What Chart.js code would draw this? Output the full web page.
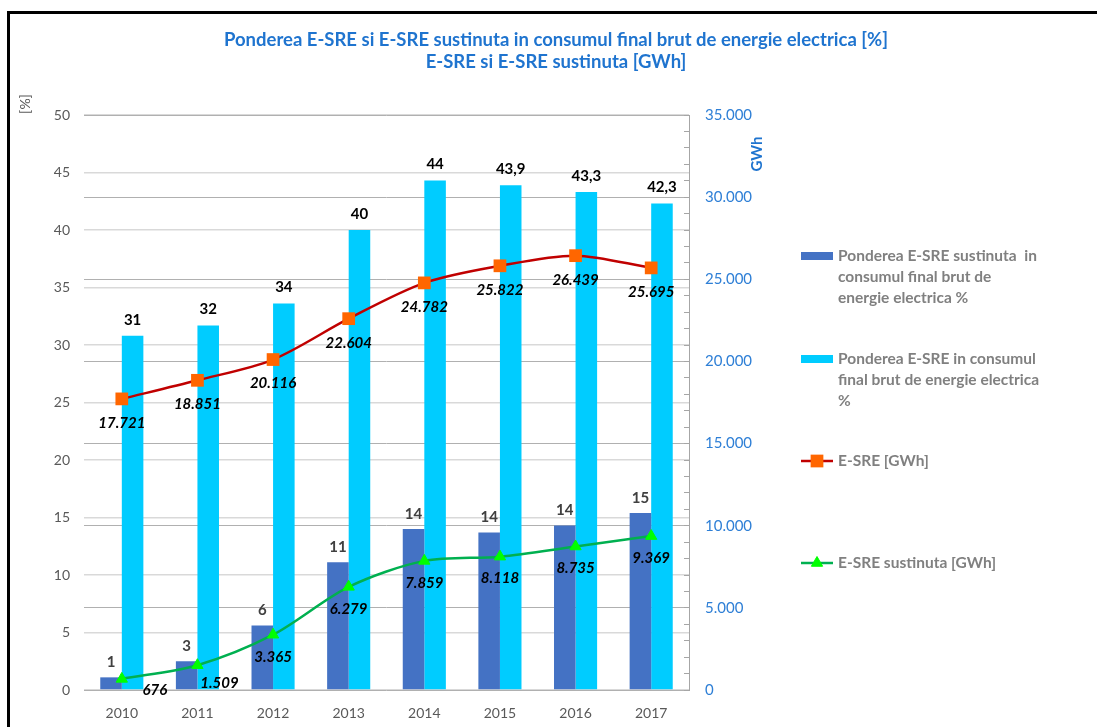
<!DOCTYPE html>
<html><head><meta charset="utf-8">
<script src="https://cdn.jsdelivr.net/npm/chart.js@4.4.0/dist/chart.umd.min.js"></script>
<style>html,body{margin:0;padding:0;background:#fff;}#wrap{position:relative;width:1097px;height:727px;}</style>
</head><body><div id="wrap"><canvas id="c" width="1097" height="727"></canvas></div>
<script>
// ---- data ----
const years = ['2010','2011','2012','2013','2014','2015','2016','2017'];
const pctSustinuta = [1.1, 2.5, 5.6, 11.1, 14.0, 13.7, 14.3, 15.4];
const pctSustinutaLabels = ['1','3','6','11','14','14','14','15'];
const pctTotal = [30.8, 31.7, 33.6, 40.0, 44.3, 43.9, 43.3, 42.3];
const pctTotalLabels = ['31','32','34','40','44','43,9','43,3','42,3'];
const esreGWh = [17721, 18851, 20116, 22604, 24782, 25822, 26439, 25695];
const esreSustGWh = [676, 1509, 3365, 6279, 7859, 8118, 8735, 9369];
const titleLines = ['Ponderea E-SRE si E-SRE sustinuta in consumul final brut de energie electrica [%]', 'E-SRE si E-SRE sustinuta [GWh]'];
const nameSust = ['Ponderea E-SRE sustinuta  in', 'consumul final brut de', 'energie electrica %'];
const nameTotal = ['Ponderea E-SRE in consumul', 'final brut de energie electrica', '%'];
const nameEsre = ['E-SRE [GWh]'];
const nameEsreSust = ['E-SRE sustinuta [GWh]'];
const leftAxisTitle = '[%]';
const rightAxisTitle = 'GWh';

const FONT = 'Lato, "Open Sans", sans-serif';
const fmtThousands = v => String(Math.round(v)).replace(/\B(?=(\d{3})+(?!\d))/g, '.');

const framePlugin = {
  id: 'frame',
  beforeDraw(chart) {
    const ctx = chart.ctx;
    ctx.save();
    ctx.fillStyle = '#fff';
    ctx.fillRect(0, 0, chart.width, chart.height);
    ctx.strokeStyle = '#000';
    ctx.lineWidth = 3;
    ctx.beginPath();
    ctx.moveTo(8.5, chart.height + 2);
    ctx.lineTo(8.5, 12.5);
    ctx.lineTo(chart.width + 2, 12.5);
    ctx.stroke();
    ctx.restore();
  }
};

const labelPlugin = {
  id: 'dataLabels',
  afterDatasetsDraw(chart) {
    const ctx = chart.ctx;
    ctx.save();
    ctx.textAlign = 'center';
    ctx.textBaseline = 'middle';
    chart.data.datasets.forEach((ds, di) => {
      const meta = chart.getDatasetMeta(di);
      const cfg = ds.dl;
      if (!cfg) return;
      meta.data.forEach((el, i) => {
        const txt = cfg.texts ? cfg.texts[i] : fmtThousands(ds.data[i]);
        const sh = (cfg.shift && cfg.shift[i]) || [0, 0];
        ctx.font = cfg.font;
        ctx.fillStyle = cfg.color;
        ctx.fillText(txt, el.x + cfg.dx + sh[0], el.y + cfg.dy + sh[1]);
      });
    });
    ctx.restore();
  },
  afterDraw(chart) {
    const ctx = chart.ctx;
    ctx.save();
    ctx.textAlign = 'center';
    ctx.textBaseline = 'middle';
    ctx.save();
    ctx.translate(25, 104);
    ctx.rotate(-Math.PI / 2);
    ctx.font = '14px ' + FONT;
    ctx.fillStyle = '#595959';
    ctx.fillText(leftAxisTitle, 0, 0);
    ctx.restore();
    ctx.save();
    ctx.translate(757, 154);
    ctx.rotate(-Math.PI / 2);
    ctx.font = 'bold 15px ' + FONT;
    ctx.fillStyle = '#1F74CF';
    ctx.fillText(rightAxisTitle, 0, 0);
    ctx.restore();
    // legend
    const entries = [{ds: 0, y: 256}, {ds: 1, y: 359}, {ds: 2, y: 461}, {ds: 3, y: 563}];
    ctx.textAlign = 'left';
    ctx.font = 'bold 15.5px ' + FONT;
    entries.forEach(e => {
      const ds = chart.data.datasets[e.ds];
      const x0 = 801, x1 = 833, xc = (x0 + x1) / 2;
      if (ds.type === 'bar') {
        ctx.fillStyle = ds.backgroundColor;
        ctx.fillRect(x0, e.y - 4, x1 - x0, 8);
      } else {
        ctx.strokeStyle = ds.borderColor;
        ctx.lineWidth = ds.borderWidth;
        ctx.beginPath(); ctx.moveTo(x0, e.y); ctx.lineTo(x1, e.y); ctx.stroke();
        ctx.fillStyle = ds.pointBackgroundColor;
        ctx.strokeStyle = ds.pointBorderColor;
        ctx.lineWidth = 1;
        const r = ds.pointRadius;
        if (ds.pointStyle === 'rect') {
          const s = r * Math.SQRT1_2;
          ctx.fillRect(xc - s, e.y - s, 2 * s, 2 * s);
        } else {
          Chart.helpers.drawPoint(ctx, {pointStyle: ds.pointStyle, radius: r, borderWidth: 1, rotation: 0}, xc, e.y);
        }
      }
      ctx.fillStyle = '#808080';
      ds.legendLines.forEach((line, k) => {
        ctx.fillText(line, 838, e.y + k * 21);
      });
    });
    ctx.restore();
  }
};

new Chart(document.getElementById('c'), {
  data: {
    labels: years,
    datasets: [
      {
        type: 'bar', label: nameSust.join(' '), legendLines: nameSust,
        data: pctSustinuta, yAxisID: 'y', order: 2,
        backgroundColor: '#4472C4', borderWidth: 0,
        barPercentage: 1, categoryPercentage: 0.57,
        dl: {texts: pctSustinutaLabels, font: 'bold 15px ' + FONT, color: '#404040', dx: 0, dy: -15}
      },
      {
        type: 'bar', label: nameTotal.join(' '), legendLines: nameTotal,
        data: pctTotal, yAxisID: 'y', order: 2,
        backgroundColor: '#00CCFF', borderWidth: 0,
        barPercentage: 1, categoryPercentage: 0.57,
        dl: {texts: pctTotalLabels, font: 'bold 15px ' + FONT, color: '#000', dx: 0, dy: -16}
      },
      {
        type: 'line', label: nameEsre.join(' '), legendLines: nameEsre,
        data: esreGWh, yAxisID: 'y1', order: 0,
        borderColor: '#C00000', borderWidth: 2.5, tension: 0.3,
        pointStyle: 'rect', pointRadius: 9, pointBackgroundColor: '#FF6600', pointBorderColor: '#FF6600', pointBorderWidth: 0,
        dl: {font: 'italic bold 15px ' + FONT, color: '#000', dx: 0, dy: 24}
      },
      {
        type: 'line', label: nameEsreSust.join(' '), legendLines: nameEsreSust,
        data: esreSustGWh, yAxisID: 'y1', order: 1,
        borderColor: '#00B050', borderWidth: 2.5, tension: 0.3,
        pointStyle: 'triangle', pointRadius: 6.5, pointBackgroundColor: '#00FF00', pointBorderColor: '#00FF00', pointBorderWidth: 1,
        dl: {font: 'italic bold 15px ' + FONT, color: '#000', dx: 0, dy: 22, shift: [[33, -11], [22, -4]]}
      }
    ]
  },
  options: {
    responsive: false, animation: false, devicePixelRatio: 1,
    layout: {padding: {top: 0, left: 15, right: 0, bottom: 0}},
    plugins: {
      legend: {display: false},
      tooltip: {enabled: false},
      title: {
        display: true, text: titleLines, color: '#1F74CF',
        font: {family: FONT, size: 18.5, weight: 'bold', lineHeight: 1.19},
        padding: {top: 29, bottom: 42}
      }
    },
    scales: {
      x: {
        grid: {display: false},
        border: {display: false},
        ticks: {color: '#595959', font: {family: FONT, size: 14}, padding: 7},
        afterFit(s) { s.height = 37; }
      },
      y: {
        position: 'left', min: 0, max: 50,
        ticks: {stepSize: 5, color: '#595959', font: {family: FONT, size: 14}, padding: 14},
        grid: {color: '#d9d9d9', lineWidth: 1.5, drawTicks: false},
        border: {display: false},
        afterFit(s) { s.width = 69; }
      },
      y1: {
        position: 'right', min: 0, max: 35000,
        ticks: {
          stepSize: 1000, autoSkip: false, color: '#2E7FD6', font: {family: FONT, size: 15}, padding: 21,
          callback: v => (v % 5000 === 0 ? fmtThousands(v) : '')
        },
        grid: {
          color: c => (c.tick && c.tick.value % 5000 === 0 ? '#b0b0b0' : 'rgba(0,0,0,0)'),
          tickColor: '#a6a6a6', tickLength: -5, drawTicks: true, lineWidth: 1
        },
        border: {display: true, color: '#a6a6a6', width: 1},
        afterFit(s) { s.width = 408; }
      }
    }
  },
  plugins: [framePlugin, labelPlugin]
});
</script>
</body></html>
